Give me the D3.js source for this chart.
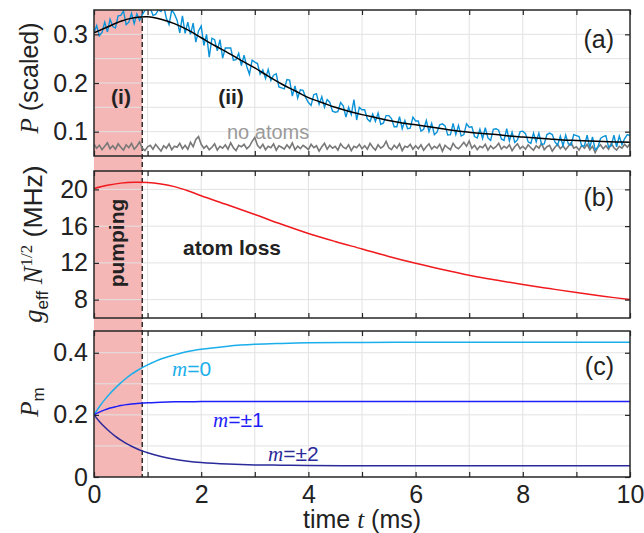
<!DOCTYPE html>
<html><head><meta charset="utf-8">
<script src="https://cdn.jsdelivr.net/npm/d3@7"></script>
<style>body{margin:0;background:#fff}svg{display:block}</style>
</head><body><svg id="c" width="644" height="533"></svg>
<script>
// ---------- data ----------
const xTicks = [0, 2, 4, 6, 8, 10];
const aTicks = [0.1, 0.2, 0.3];
const bTicks = [8, 12, 16, 20];
const cTicks = [0, 0.2, 0.4];
const pumpEnd = 0.9;

// panel (a): measured signal (blue), sampled every 0.05 ms from 0 to 10 ms
const traceStep = 0.05;
const blueP = [
 .303,.318,.297,.304,.325, .305,.331,.316,.313,.338, .339,.348,.320,.325,.343, .322,.342,.329,.340,.349,
 .352,.354,.339,.341,.350, .347,.359,.333,.320,.350, .342,.329,.303,.338,.302, .325,.300,.323,.284,.307,
 .317,.277,.300,.253,.292, .289,.266,.289,.251,.272, .272,.272,.247,.248,.261, .236,.257,.234,.218,.247,
 .243,.240,.218,.227,.209, .228,.205,.216,.219,.192, .190,.188,.207,.206,.173, .194,.169,.186,.185,.170,
 .160,.154,.176,.178,.156, .172,.150,.166,.160,.142, .140,.141,.160,.153,.130, .150,.135,.166,.124,.150,
 .145,.145,.126,.121,.136, .121,.138,.115,.118,.133, .133,.127,.110,.110,.131, .106,.123,.106,.107,.130,
 .122,.122,.101,.105,.123, .100,.117,.094,.099,.114, .116,.112,.093,.094,.117, .094,.113,.091,.094,.116,
 .109,.110,.090,.087,.105, .086,.108,.087,.082,.105, .106,.103,.085,.082,.106, .081,.099,.078,.083,.100,
 .101,.096,.079,.076,.097, .079,.097,.074,.075,.094, .097,.094,.079,.072,.091, .071,.093,.075,.072,.094,
 .092,.090,.070,.071,.093, .067,.089,.063,.068,.086, .090,.092,.068,.071,.093, .069,.091,.073,.086,.094,
 .092
];
// panel (a): no-atoms background (gray), same sampling
const grayP = [
 .074,.066,.072,.063,.070,.077,.065,.071,.064,.075,.068,.062,.073,.067,.076,.064,.070,.079,.066,.061,
 .069,.072,.064,.074,.067,.060,.071,.066,.075,.063,.070,.068,.076,.065,.072,.064,.078,.069,.084,.090,
 .074,.066,.071,.063,.068,.075,.062,.070,.066,.073,.064,.077,.067,.061,.072,.069,.074,.065,.070,.080,
 .088,.072,.066,.074,.063,.070,.067,.075,.062,.071,.068,.064,.073,.066,.077,.063,.070,.065,.072,.068,
 .063,.074,.067,.071,.060,.069,.076,.064,.072,.066,.070,.062,.075,.068,.065,.073,.061,.070,.067,.074,
 .065,.071,.064,.076,.068,.062,.073,.066,.070,.080,.067,.063,.072,.066,.075,.061,.070,.068,.074,.064,
 .071,.065,.073,.062,.069,.075,.064,.070,.066,.074,.060,.072,.067,.063,.076,.068,.065,.071,.078,.070,
 .081,.066,.072,.063,.070,.067,.074,.062,.071,.065,.069,.076,.064,.070,.066,.073,.061,.069,.075,.065,
 .070,.064,.073,.067,.062,.071,.066,.076,.063,.069,.072,.060,.068,.074,.065,.071,.063,.070,.077,.066,
 .069,.062,.072,.066,.074,.063,.070,.057,.068,.073,.065,.071,.064,.076,.067,.062,.070,.066,.074,.068,
 .075
];
// panel (a): model fit (black)
const fitT = [0,0.25,0.5,0.75,1,1.25,1.5,1.75,2,2.25,2.5,2.75,3,3.25,3.5,3.75,4,4.25,4.5,4.75,5,5.25,5.5,5.75,6,6.25,6.5,6.75,7,7.25,7.5,7.75,8,8.25,8.5,8.75,9,9.25,9.5,9.75,10];
const fitP = [.303,.315,.327,.334,.336,.331,.322,.309,.293,.277,.262,.246,.231,.214,.198,.184,.170,.160,.150,.142,.135,.129,.123,.118,.114,.110,.106,.102,.099,.096,.094,.091,.089,.087,.085,.083,.082,.081,.080,.079,.078];

// panel (b): g_eff N^1/2 (MHz)
const gT = [0,0.25,0.5,0.75,1,1.25,1.5,1.75,2,2.5,3,3.5,4,4.5,5,5.5,6,6.5,7,7.5,8,8.5,9,9.5,10];
const gV = [20.1,20.45,20.68,20.78,20.75,20.58,20.3,19.85,19.3,18.3,17.27,16.2,15.2,14.33,13.52,12.7,11.95,11.28,10.66,10.13,9.64,9.2,8.77,8.37,8.0];

// panel (c): populations
const pmT  = [0,0.1,0.2,0.3,0.4,0.5,0.6,0.7,0.8,0.9,1,1.25,1.5,1.75,2,2.5,3,3.5,4,5,6,7,8,9,10];
const pm0  = [.200,.226,.249,.269,.287,.303,.318,.331,.342,.352,.361,.380,.393,.404,.411,.421,.427,.430,.432,.433,.434,.434,.434,.434,.434];
const pm1  = [.200,.209,.216,.222,.226,.230,.233,.235,.237,.238,.239,.241,.242,.242,.243,.243,.243,.243,.243,.243,.243,.243,.243,.243,.243];
const pm2  = [.200,.179,.161,.145,.131,.119,.108,.099,.091,.084,.078,.066,.057,.051,.047,.042,.039,.038,.037,.0365,.0365,.0365,.0365,.0365,.0365];

// ---------- drawing ----------
const svg = d3.select("#c");
const SANS = "'Liberation Sans', Arial, Helvetica, sans-serif";
const SERIF = "'Liberation Serif', 'Times New Roman', serif";
const FS = 25;
const L = 94, R = 630;
const x = d3.scaleLinear([0, 10], [L, R]);
const panels = [
  {id:"a", y: d3.scaleLinear([0.05, 0.35], [156, 10]), ticks: aTicks, grid: [0.1,0.15,0.2,0.25,0.3], fmt: d3.format(".1f"), label:"(a)", ly: 48},
  {id:"b", y: d3.scaleLinear([6, 22], [318, 171]), ticks: bTicks, grid: bTicks, fmt: d3.format("d"), label:"(b)", ly: 206},
  {id:"c", y: d3.scaleLinear([0, 0.47], [477, 331]), ticks: cTicks, grid: [0.1,0.2,0.3,0.4], fmt: d => d === 0 ? "0" : d3.format(".1f")(d), label:"(c)", ly: 375}
];

// pink pumping region across all panels
svg.append("rect").attr("x", x(0)).attr("y", 10).attr("width", x(pumpEnd) - x(0)).attr("height", 477 - 10)
  .attr("fill", "#f5b6b6");

const intTicks = d3.range(0, 11);
panels.forEach(p => {
  const [yb, yt] = p.y.range();
  const g = svg.append("g");
  g.selectAll(".vg").data(intTicks.slice(1, 10)).join("line")
    .attr("x1", d => x(d)).attr("x2", d => x(d)).attr("y1", yt).attr("y2", yb)
    .attr("stroke", "#e2e2e2").attr("stroke-width", 1);
  g.selectAll(".hg").data(p.grid).join("line")
    .attr("x1", L).attr("x2", R).attr("y1", d => p.y(d)).attr("y2", d => p.y(d))
    .attr("stroke", "#e2e2e2").attr("stroke-width", 1);
  p.clip = "clip-" + p.id;
  svg.append("clipPath").attr("id", p.clip).append("rect")
    .attr("x", L).attr("y", yt).attr("width", R - L).attr("height", yb - yt);
});

// dashed line at end of pumping
svg.append("line").attr("x1", x(pumpEnd)).attr("x2", x(pumpEnd)).attr("y1", 10).attr("y2", 477)
  .attr("stroke", "#222").attr("stroke-width", 1.4).attr("stroke-dasharray", "5,3");

const smooth = d3.curveCatmullRom.alpha(0.5);
// panel a curves
const pa = panels[0], pb = panels[1], pc = panels[2];
const tr = blueP.map((v, i) => [i * traceStep, v]);
const gr = grayP.map((v, i) => [i * traceStep, v]);
const lineA = d3.line().x(d => x(d[0])).y(d => pa.y(d[1]));
const ca = svg.append("g").attr("clip-path", `url(#${pa.clip})`);
ca.append("path").datum(gr).attr("d", lineA).attr("fill", "none").attr("stroke", "#787878").attr("stroke-width", 1.6);
ca.append("path").datum(tr).attr("d", lineA).attr("fill", "none").attr("stroke", "#0a92d8").attr("stroke-width", 1.4);
ca.append("path").datum(fitT.map((t, i) => [t, fitP[i]])).attr("d", d3.line().x(d => x(d[0])).y(d => pa.y(d[1])).curve(smooth))
  .attr("fill", "none").attr("stroke", "#000").attr("stroke-width", 1.5);

// panel b
const cb = svg.append("g").attr("clip-path", `url(#${pb.clip})`);
cb.append("path").datum(gT.map((t, i) => [t, gV[i]]))
  .attr("d", d3.line().x(d => x(d[0])).y(d => pb.y(d[1])).curve(smooth))
  .attr("fill", "none").attr("stroke", "#f01a1e").attr("stroke-width", 1.5);

// panel c
const cc = svg.append("g").attr("clip-path", `url(#${pc.clip})`);
const lineC = d3.line().x(d => x(d[0])).y(d => pc.y(d[1])).curve(smooth);
const mCols = ["#1aaeea", "#1e1ef8", "#2a2a9a"];
[pm0, pm1, pm2].forEach((arr, k) => {
  cc.append("path").datum(pmT.map((t, i) => [t, arr[i]])).attr("d", lineC)
    .attr("fill", "none").attr("stroke", mCols[k]).attr("stroke-width", 1.5);
});

// axes & frames
panels.forEach((p, idx) => {
  const [yb, yt] = p.y.range();
  const ax = (sel) => { sel.select(".domain").remove(); sel.selectAll("line").attr("stroke", "#262626").attr("stroke-width", 1.2);
    sel.selectAll("text").attr("font-family", SANS).attr("font-size", FS).attr("fill", "#222"); };
  svg.append("g").attr("transform", `translate(${L},0)`)
    .call(d3.axisLeft(p.y).tickValues(p.ticks).tickSize(-5).tickPadding(6).tickFormat(p.fmt)).call(ax);
  svg.append("g").attr("transform", `translate(${R},0)`)
    .call(d3.axisRight(p.y).tickValues(p.ticks).tickSize(-5).tickFormat("")).call(ax);
  svg.append("g").attr("transform", `translate(0,${yt})`)
    .call(d3.axisTop(x).tickValues(intTicks).tickSize(-5).tickFormat("")).call(ax);
  svg.append("g").attr("transform", `translate(0,${yb})`)
    .call(d3.axisBottom(x).tickValues(intTicks).tickSize(-5).tickPadding(8)
      .tickFormat(idx === 2 ? (d => xTicks.includes(d) ? d : "") : "")).call(ax);
  svg.append("rect").attr("x", L).attr("y", yt).attr("width", R - L).attr("height", yb - yt)
    .attr("fill", "none").attr("stroke", "#262626").attr("stroke-width", 1.5);
  svg.append("text").attr("x", 614).attr("y", p.ly).attr("text-anchor", "end")
    .attr("font-family", SANS).attr("font-size", FS).attr("fill", "#222").text(p.label);
});

// annotations
const bold = (t, xx, yy, rot) => {
  const s = svg.append("text").attr("font-family", SANS).attr("font-weight", "bold").attr("font-size", 21)
    .attr("fill", "#222").attr("text-anchor", "middle").text(t);
  if (rot) s.attr("transform", `translate(${xx},${yy}) rotate(-90)`); else s.attr("x", xx).attr("y", yy);
};
bold("(i)", 121, 104);
bold("(ii)", 231, 104);
bold("atom loss", 232, 255);
bold("pumping", 124, 243, true);
svg.append("text").attr("x", 227).attr("y", 139).attr("font-family", SANS).attr("font-size", 20)
  .attr("fill", "#9a9a9a").text("no atoms");

// m labels
const mlab = (txt, xx, yy, col) => {
  const t = svg.append("text").attr("x", xx).attr("y", yy).attr("fill", col).attr("font-size", 21);
  t.append("tspan").attr("font-family", SERIF).attr("font-style", "italic").text("m");
  t.append("tspan").attr("font-family", SANS).text(txt);
};
mlab("=0", 172, 376, mCols[0]);
mlab("=±1", 213, 427, mCols[1]);
mlab("=±2", 268, 461, mCols[2]);

// axis labels
const ylab = (xx, yy, fs, parts) => {
  const t = svg.append("text").attr("transform", `translate(${xx},${yy}) rotate(-90)`).attr("text-anchor", "middle")
    .attr("font-size", fs).attr("fill", "#222");
  parts.forEach(p => {
    const s = t.append("tspan").attr("font-family", p.serif ? SERIF : SANS).text(p.t);
    if (p.it) s.attr("font-style", "italic");
    if (p.fs) s.attr("font-size", p.fs);
    if (p.dy) s.attr("dy", p.dy);
  });
};
ylab(38, 78, FS, [{t:"P", serif:true, it:true}, {t:" (scaled)"}]);
ylab(42, 244, 26.5, [{t:"g", serif:true, it:true}, {t:"eff", fs:17, dy:6}, {t:" N", serif:true, it:true, dy:-6}, {t:"1/2", serif:true, fs:17, dy:-10}, {t:" (MHz)", dy:10}]);
ylab(38, 402, FS, [{t:"P", serif:true, it:true}, {t:"m", fs:17, dy:6}]);

const xl = svg.append("text").attr("x", 362).attr("y", 528).attr("text-anchor", "middle").attr("font-size", FS).attr("fill", "#222");
xl.append("tspan").attr("font-family", SANS).text("time ");
xl.append("tspan").attr("font-family", SERIF).attr("font-style", "italic").text("t");
xl.append("tspan").attr("font-family", SANS).text(" (ms)");
</script></body></html>
